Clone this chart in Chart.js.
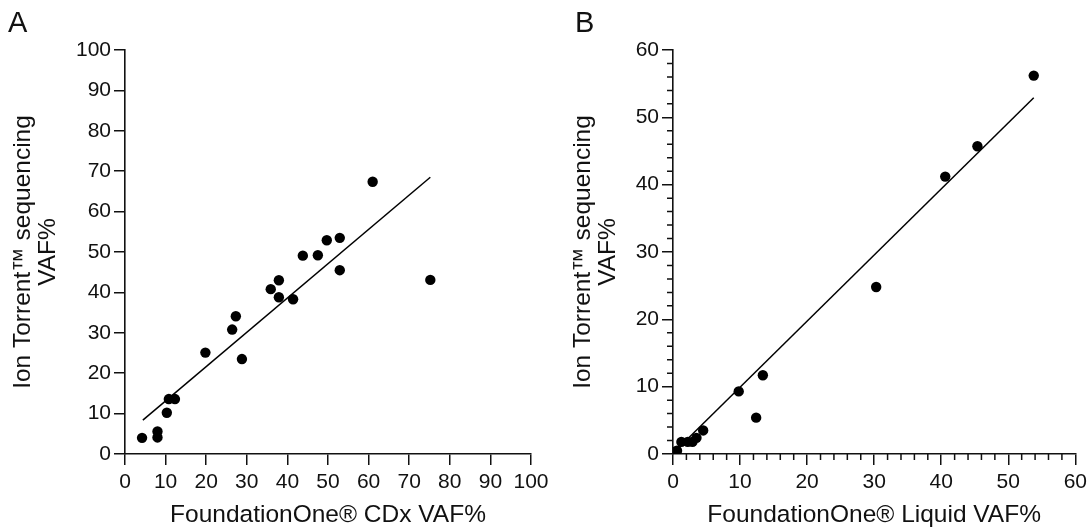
<!DOCTYPE html>
<html>
<head>
<meta charset="utf-8">
<script src="https://cdn.jsdelivr.net/npm/chart.js@4.4.1/dist/chart.umd.min.js"></script>
<style>
  html, body { margin: 0; padding: 0; background: #fff; }
  #wrap { position: relative; width: 1092px; height: 527px; overflow: hidden; }
  #chartA { position: absolute; left: 0; top: 0; }
  #chartB { position: absolute; left: 560px; top: 0; }
  .panel-label { position: absolute; top: 8px; font: 29px/1 "Liberation Sans", Arial, sans-serif; color: #111; }
</style>
</head>
<body>
<div id="wrap">
  <canvas id="chartA" width="560" height="527"></canvas>
  <canvas id="chartB" width="532" height="527"></canvas>
  <div class="panel-label" style="left:8px">A</div>
  <div class="panel-label" style="left:575px">B</div>
</div>
<script>
// panel A: FoundationOne CDx vs Ion Torrent
const cdxX = [4.2, 8.0, 8.0, 10.3, 10.8, 12.3, 19.8, 26.4, 27.3, 28.8, 35.9, 37.9, 37.9, 41.4, 43.8, 47.5, 49.7, 52.9, 52.9, 61.0, 75.2];
const cdxY = [4.0, 5.6, 4.1, 10.2, 13.6, 13.6, 25.1, 30.8, 34.1, 23.5, 40.8, 43.0, 38.8, 38.3, 49.1, 49.2, 52.9, 53.5, 45.5, 67.4, 43.1];
const cdxFitX = [4.4, 75.2];
const cdxFitY = [8.4, 68.5];
const ticksA = [0, 10, 20, 30, 40, 50, 60, 70, 80, 90, 100];

// panel B: FoundationOne Liquid vs Ion Torrent
const liqX = [0.2, 0.6, 1.25, 2.2, 2.9, 3.5, 4.5, 9.8, 12.4, 13.4, 30.3, 40.6, 45.4, 53.8];
const liqY = [0.3, 0.5, 1.8, 1.8, 1.8, 2.4, 3.5, 9.3, 5.4, 11.7, 24.8, 41.2, 45.7, 56.2];
const liqFitX = [0.5, 53.8];
const liqFitY = [0.6, 52.9];
const ticksB = [0, 10, 20, 30, 40, 50, 60];
const minorB = [2, 4, 6, 8, 12, 14, 16, 18, 22, 24, 26, 28, 32, 34, 36, 38, 42, 44, 46, 48, 52, 54, 56, 58];

const yTitle = ["Ion Torrent\u2122 sequencing", "VAF%"];
const FONT = '"Liberation Sans", Arial, sans-serif';
const INK = '#111';

function pts(xs, ys) {
  return xs.map((x, i) => ({ x, y: ys[i] }));
}

// short ticks between the labelled ones
function minorTickPlugin(values, len) {
  return {
    id: 'minorTicks',
    afterDraw(chart) {
      if (!values) return;
      const ctx = chart.ctx;
      const xs = chart.scales.x, ys = chart.scales.y;
      ctx.save();
      ctx.strokeStyle = INK;
      ctx.lineWidth = 1.5;
      ctx.beginPath();
      values.forEach(v => {
        const px = xs.getPixelForValue(v);
        ctx.moveTo(px, xs.top);
        ctx.lineTo(px, xs.top + len);
        const py = ys.getPixelForValue(v);
        ctx.moveTo(ys.right, py);
        ctx.lineTo(ys.right - len, py);
      });
      ctx.stroke();
      ctx.restore();
    }
  };
}

function axis(tickVals, title, extra) {
  return Object.assign({
    type: 'linear',
    min: tickVals[0],
    max: tickVals[tickVals.length - 1],
    afterBuildTicks: s => { s.ticks = tickVals.map(v => ({ value: v })); },
    grid: { drawOnChartArea: false, drawTicks: true, tickLength: 11, color: INK, lineWidth: 1.5 },
    border: { display: true, color: INK, width: 1.6 },
    ticks: { color: INK, padding: 3, maxRotation: 0, autoSkip: false, font: { family: FONT, size: 21 } },
    title: { display: true, text: title, color: INK, font: { family: FONT, size: 24.5, lineHeight: 1.02 } }
  }, extra);
}

function makePanel(id, xs, ys, fitX, fitY, tickVals, xTitle, yWidth, pad, minor) {
  const x = axis(tickVals, xTitle, { afterFit: s => { s.height = 73; } });
  x.ticks.padding = 5;
  x.title.font = { family: FONT, size: 24.5, lineHeight: 0.92 };
  x.title.padding = { top: 0, bottom: 0 };
  const y = axis(tickVals, yTitle, { afterFit: s => { s.width = yWidth; } });
  y.title.padding = { top: 10.5, bottom: 0 };
  return new Chart(document.getElementById(id), {
    type: 'scatter',
    data: {
      datasets: [
        {
          data: pts(xs, ys),
          backgroundColor: '#000',
          borderWidth: 0,
          pointRadius: 5.2,
          pointHoverRadius: 5.2
        },
        {
          data: pts(fitX, fitY),
          showLine: true,
          borderColor: '#000',
          borderWidth: 1.5,
          pointRadius: 0,
          pointHoverRadius: 0
        }
      ]
    },
    options: {
      responsive: false,
      animation: false,
      layout: { padding: pad },
      plugins: { legend: { display: false }, tooltip: { enabled: false } },
      scales: { x, y }
    },
    plugins: [minorTickPlugin(minor, 6)]
  });
}

makePanel('chartA', cdxX, cdxY, cdxFitX, cdxFitY, ticksA,
  'FoundationOne\u00ae CDx VAF%', 125, { top: 50, right: 29, left: 0, bottom: 0 }, null);
makePanel('chartB', liqX, liqY, liqFitX, liqFitY, ticksB,
  'FoundationOne\u00ae Liquid VAF%', 113, { top: 50, right: 14, left: 0, bottom: 0 }, minorB);
</script>
</body>
</html>
